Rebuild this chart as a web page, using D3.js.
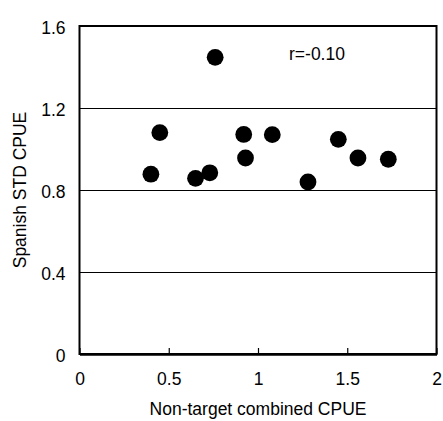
<!DOCTYPE html>
<html>
<head>
<meta charset="utf-8">
<script src="https://cdn.jsdelivr.net/npm/d3@7"></script>
<style>
  html, body { margin: 0; padding: 0; background: #fff; }
  svg { display: block; font-family: "Liberation Sans", Arial, sans-serif; }
</style>
</head>
<body>
<svg id="chart" width="443" height="421"></svg>
<script>
// Non-target combined CPUE vs Spanish standardised CPUE
const nonTargetCPUE = [0.40, 0.45, 0.76, 0.65, 0.73, 0.92, 0.93, 1.08, 1.28, 1.45, 1.56, 1.73];
const spanishCPUE   = [0.877, 1.080, 1.447, 0.857, 0.884, 1.071, 0.956, 1.070, 0.839, 1.047, 0.956, 0.950];
const xTicks = [0, 0.5, 1, 1.5, 2];
const yTicks = [0, 0.4, 0.8, 1.2, 1.6];
const corrLabel = "r=-0.10";

const FS = 17.5;
const svg = d3.select("#chart");
const m = { left: 79.5, right: 436.5, top: 26, bottom: 354 };

const x = d3.scaleLinear().domain([0, 2]).range([m.left, m.right]);
const y = d3.scaleLinear().domain([0, 1.6]).range([m.bottom, m.top]);

// horizontal gridlines
svg.append("g").selectAll("line")
  .data(yTicks.filter(v => v > 0 && v < 1.6))
  .join("line")
  .attr("x1", m.left).attr("x2", m.right)
  .attr("y1", d => Math.round(y(d)) + 0.5).attr("y2", d => Math.round(y(d)) + 0.5)
  .attr("stroke", "#000").attr("stroke-width", 1);

// plot frame
svg.append("rect")
  .attr("x", m.left).attr("y", m.top)
  .attr("width", m.right - m.left).attr("height", m.bottom - m.top)
  .attr("fill", "none").attr("stroke", "#000").attr("stroke-width", 2);

// bottom axis: inward ticks, labels below
const xAxis = svg.append("g").attr("transform", `translate(0,${m.bottom})`)
  .call(d3.axisBottom(x).tickValues(xTicks).tickFormat(d3.format("")).tickSizeInner(-6).tickSizeOuter(0).tickPadding(19));
xAxis.select(".domain").attr("stroke-width", 2.5);
xAxis.selectAll(".tick line").attr("stroke-width", 1.2);
xAxis.selectAll("text").attr("font-size", FS).attr("font-family", "Liberation Sans, Arial, sans-serif").attr("fill", "#000");

// left axis labels
const yAxis = svg.append("g").attr("transform", `translate(${m.left},0)`)
  .call(d3.axisLeft(y).tickValues(yTicks).tickFormat(d3.format("")).tickSize(0).tickPadding(14));
yAxis.select(".domain").remove();
yAxis.selectAll("text").attr("font-size", FS).attr("font-family", "Liberation Sans, Arial, sans-serif").attr("fill", "#000").attr("dy", "0.42em");

// points
svg.append("g").selectAll("circle")
  .data(nonTargetCPUE.map((v, i) => [v, spanishCPUE[i]]))
  .join("circle")
  .attr("cx", d => x(d[0])).attr("cy", d => y(d[1]))
  .attr("r", 8.4).attr("fill", "#000");

// correlation annotation
svg.append("text")
  .attr("x", 289).attr("y", 60)
  .attr("font-size", FS).attr("fill", "#000")
  .text(corrLabel);

// axis titles
svg.append("text")
  .attr("x", (m.left + m.right) / 2).attr("y", 415)
  .attr("text-anchor", "middle").attr("font-size", FS).attr("fill", "#000")
  .text("Non-target combined CPUE");

svg.append("text")
  .attr("transform", `translate(25.5,${(m.top + m.bottom) / 2}) rotate(-90)`)
  .attr("text-anchor", "middle").attr("font-size", FS).attr("fill", "#000")
  .text("Spanish STD CPUE");
</script>
</body>
</html>
